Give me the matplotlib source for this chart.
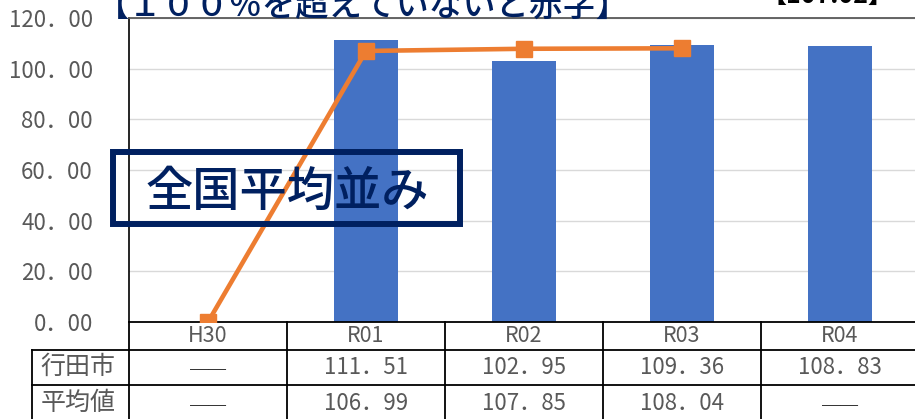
import matplotlib
matplotlib.use("Agg")
import matplotlib.pyplot as plt
import matplotlib.transforms as mtransforms
from matplotlib.patches import Rectangle
from matplotlib.lines import Line2D
import numpy as np

plt.rcParams["font.family"] = ["Noto Sans CJK JP", "DejaVu Sans"]

# ---------- data ----------
years = ["H30", "R01", "R02", "R03", "R04"]
gyoda = [np.nan, 111.51, 102.95, 109.36, 108.83]      # 行田市 (bars)
heikin = [0.0, 106.99, 107.85, 108.04, np.nan]        # 平均値 (line)
heikin_shown = [False, True, True, True, False]       # H30 plotted as 0 but shown as a dash
row_labels = ["行田市", "平均値"]
yticks = [0, 20, 40, 60, 80, 100, 120]

BLUE = "#4472C4"
ORANGE = "#ED7D31"
NAVY = "#002060"
GRAY = "#595959"
DASH = "──"

W, H = 915, 419
fig = plt.figure(figsize=(W / 100, H / 100), dpi=100)


def fx(x):
    return x / W


def fy(y):
    return 1 - y / H


# plot area in pixels: left 129, right 919, top 18, bottom 322
ax = fig.add_axes([fx(129), fy(322), fx(919 - 129), fy(18) - fy(322)])

x = np.arange(len(years))
ax.bar(x, np.nan_to_num(gyoda), width=0.405, color=BLUE, zorder=2)
ax.plot(x, heikin, color=ORANGE, lw=3.3, marker="s", markersize=11,
        markerfacecolor=ORANGE, markeredgecolor=ORANGE, zorder=3)

ax.set_xlim(-0.5, len(years) - 0.5)
ax.set_ylim(0, 120)
ax.set_yticks(yticks)
ax.set_yticklabels([f"{v:.2f}".replace(".", "．") for v in yticks],
                   fontsize=16, color=GRAY)
ax.tick_params(axis="y", length=0, pad=26)
ax.set_xticks([])
ax.grid(axis="y", color="#D9D9D9", lw=1, zorder=0)
ax.set_axisbelow(True)

ax.spines["left"].set_color("black")
ax.spines["left"].set_linewidth(1.2)
ax.spines["top"].set_color(GRAY)
ax.spines["top"].set_linewidth(1.3)
ax.spines["right"].set_visible(False)
ax.spines["bottom"].set_color("black")
ax.spines["bottom"].set_linewidth(1.3)

# ---------- data table under the plot ----------
tr = mtransforms.blended_transform_factory(ax.transData, fig.transFigure)
lkw = dict(color="black", lw=1.3, zorder=5)

# horizontal rules
for y in [350, 385]:
    fig.add_artist(Line2D([fx(32), 1], [fy(y), fy(y)], **lkw))
# label column left border
fig.add_artist(Line2D([fx(32), fx(32)], [fy(350), 0], **lkw))
# left spine continues through the table
fig.add_artist(Line2D([fx(129), fx(129)], [fy(322), 0], **lkw))
# column separators
for i in range(1, len(years)):
    fig.add_artist(Line2D([i - 0.5, i - 0.5], [fy(322), 0], transform=tr, **lkw))

for i, name in enumerate(years):
    fig.text(i, fy(336), name, transform=tr, ha="center", va="center",
             fontsize=15.5, color=GRAY)
    g = gyoda[i]
    if np.isnan(g):
        fig.text(i, fy(370), DASH, transform=tr, ha="center", va="center",
                 fontsize=13, color="black")
    else:
        fig.text(i, fy(367), f"{g:.2f}".replace(".", "．"), transform=tr,
                 ha="center", va="center", fontsize=16, color=GRAY)
    h = heikin[i]
    if heikin_shown[i]:
        fig.text(i, fy(403), f"{h:.2f}".replace(".", "．"), transform=tr,
                 ha="center", va="center", fontsize=16, color=GRAY)
    else:
        fig.text(i, fy(406), DASH, transform=tr, ha="center", va="center",
                 fontsize=13, color="black")

for lab, yc in zip(row_labels, [367, 403]):
    fig.text(fx(78), fy(yc), lab, ha="center", va="center",
             fontsize=18, color=GRAY)

# ---------- annotations ----------
fig.add_artist(Rectangle((fx(113), fy(224)), fx(460 - 113), fy(152) - fy(224),
                         fill=False, edgecolor=NAVY, lw=4.3, zorder=6))
fig.text(fx(287), fy(192), "全国平均並み", ha="center", va="center",
         fontsize=34, fontweight="medium", color=NAVY, zorder=7)

# heading texts sit partly above the top edge, as in the reference crop
fig.text(fx(96), fy(6), "【１００％を超えていないと赤字】", ha="left", va="center",
         fontsize=24, fontweight="medium", color=NAVY, zorder=7)
fig.text(fx(893), fy(-4), "【107.02】", ha="right", va="center",
         fontsize=18, fontweight="bold", color="black", zorder=7)

fig.savefig("out.png", dpi=100)
